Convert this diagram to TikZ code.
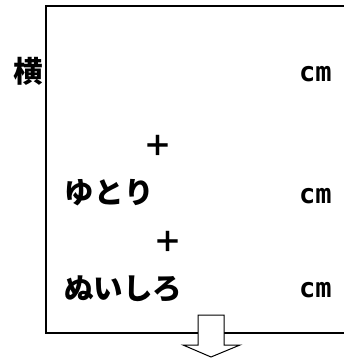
\documentclass[tikz,border=0pt]{standalone}
\usepackage{fontspec}
\newfontfamily\jp{Noto Sans CJK JP}
\newfontfamily\monof{DejaVu Sans Mono}
\tikzset{
  frameline/.style={line width=1.8pt, black},
  lbl/.style={inner sep=0pt, font=\jp\bfseries\fontsize{29.5}{32}\selectfont},
  unit/.style={inner sep=0pt, font=\monof\bfseries\fontsize{27}{30}\selectfont},
  plus/.style={inner sep=0pt, font=\jp\bfseries\fontsize{29}{32}\selectfont},
  blockarrow/.style={draw=black, fill=white, line width=1pt, line join=miter}
}
\begin{document}
\begin{tikzpicture}[x=1pt, y=-1pt]
\useasboundingbox (0,0) rectangle (344,358);
\coordinate (tr) at (346,6);
\coordinate (tl) at (46,6);
\coordinate (bl) at (46,333);
\coordinate (br) at (346,333);
\draw[frameline] (tr) -- (tl) -- (bl) -- (br);
\node[lbl] (yoko) at (28,71) {横};
\node[unit, anchor=west] (cm1) at (299,74) {cm};
\node[plus] (p1) at (158,146) {＋};
\node[lbl, anchor=west, font=\jp\bfseries\fontsize{29.5}{32}\selectfont\addfontfeatures{LetterSpace=3}] (yutori) at (64,193) {ゆとり};
\node[unit, anchor=west] (cm2) at (299,196) {cm};
\node[plus] (p2) at (168,242) {＋};
\node[lbl, anchor=west] (nuishiro) at (64,289) {ぬいしろ};
\node[unit, anchor=west] (cm3) at (299,290) {cm};
\draw[blockarrow] (198,315) -- (198,345) -- (183,345) -- (211,357) -- (240,345) -- (224,345) -- (224,315) -- cycle;
\end{tikzpicture}
\end{document}
